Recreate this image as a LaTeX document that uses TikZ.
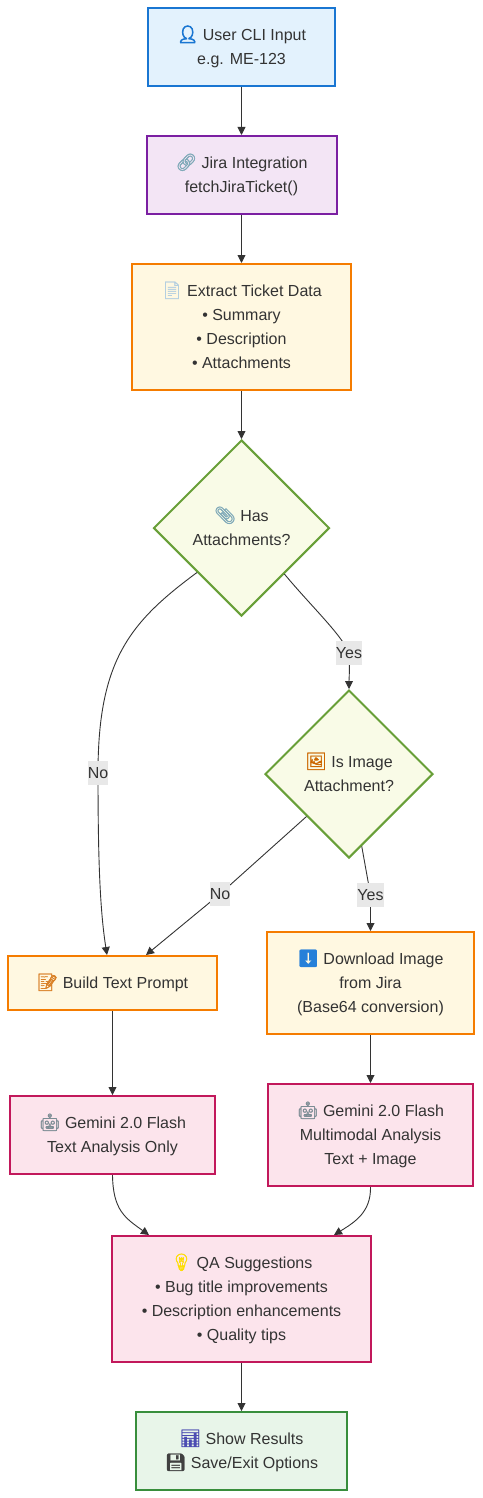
\documentclass[tikz,border=0pt]{standalone}
\usepackage{fontspec}
\setmainfont{Liberation Sans}
\font\emojifont="Noto Emoji:embolden=1.4" at 17pt
\font\emojiheavy="Noto Emoji:embolden=5" at 17pt
\usetikzlibrary{arrows.meta,shapes.geometric}

\definecolor{inkgray}{HTML}{333333}
\definecolor{labelgray}{HTML}{E8E8E8}
\definecolor{blueline}{HTML}{1976D2}
\definecolor{bluefill}{HTML}{E3F2FD}
\definecolor{purpleline}{HTML}{7B1FA2}
\definecolor{purplefill}{HTML}{F3E5F5}
\definecolor{orangeline}{HTML}{F57C00}
\definecolor{orangefill}{HTML}{FFF8E1}
\definecolor{oliveline}{HTML}{689F38}
\definecolor{olivefill}{HTML}{F9FBE7}
\definecolor{pinkline}{HTML}{C2185B}
\definecolor{pinkfill}{HTML}{FCE4EC}
\definecolor{greenline}{HTML}{388E3C}
\definecolor{greenfill}{HTML}{E8F5E9}
\definecolor{steelicon}{HTML}{7FA9B8}
\definecolor{papericon}{HTML}{B4CFE0}
\definecolor{roboticon}{HTML}{7C8C94}

\newcommand{\emo}[2]{{\emojifont\color{#1}#2}}
\newcommand{\emoh}[2]{{\emojiheavy\color{#1}#2}}

\tikzset{
    flowbox/.style={draw,line width=2pt,rectangle,align=center,inner sep=0pt,text=inkgray,
        text depth=4.2pt,font=\fontsize{16}{24}\selectfont},
    inputbox/.style={flowbox,draw=blueline,fill=bluefill},
    jirabox/.style={flowbox,draw=purpleline,fill=purplefill},
    workbox/.style={flowbox,draw=orangeline,fill=orangefill},
    aibox/.style={flowbox,draw=pinkline,fill=pinkfill},
    outbox/.style={flowbox,draw=greenline,fill=greenfill},
    question/.style={flowbox,shape=diamond,aspect=1,draw=oliveline,fill=olivefill},
    link/.style={draw=inkgray,line width=0.9pt,-{Triangle[length=8pt,width=8pt]}},
    edgetext/.style={fill=labelgray,text=inkgray,inner sep=0pt,minimum height=24pt,
        font=\fontsize{16}{24}\selectfont}
}

\begin{document}
\begin{tikzpicture}[x=1pt,y=-1pt]
    \useasboundingbox (0,0) rectangle (482,1498);

    \node[inputbox,minimum width=187pt,minimum height=78pt] (userinput) at (241.5,47)
        {\emoh{blueline}{👤} User CLI Input\\e.g. ME-123};
    \node[jirabox,minimum width=190pt,minimum height=78pt] (jira) at (241.5,175)
        {\emo{steelicon}{🔗} Jira Integration\\fetchJiraTicket()};
    \node[workbox,minimum width=219pt,minimum height=126pt] (extract) at (241.5,327)
        {\emo{papericon}{📄} Extract Ticket Data\\• Summary\\• Description\\• Attachments};
    \node[question,minimum width=176pt,minimum height=176pt] (hasfiles) at (241.5,528)
        {\emo{steelicon}{📎} Has\\Attachments?};
    \node[question,minimum width=168pt,minimum height=168pt] (isimage) at (349,774)
        {\emo{orange!80!black}{🖼} Is Image\\Attachment?};
    \node[workbox,minimum width=209pt,minimum height=54pt] (textprompt) at (112.5,983)
        {\emo{orange!70!gray}{📝} Build Text Prompt};
    \node[workbox,minimum width=207pt,minimum height=102pt] (download) at (370.5,983)
        {\emo{blue!50!cyan!70!gray}{⬇} Download Image\\from Jira\\(Base64 conversion)};
    \node[aibox,minimum width=205pt,minimum height=78pt] (geminitext) at (112.5,1135)
        {\emo{roboticon}{🤖} Gemini 2.0 Flash\\Text Analysis Only};
    \node[aibox,minimum width=205pt,minimum height=102pt] (geminiimage) at (370.5,1135)
        {\emo{roboticon}{🤖} Gemini 2.0 Flash\\Multimodal Analysis\\Text + Image};
    \node[aibox,minimum width=259pt,minimum height=126pt] (suggest) at (241.5,1299)
        {\emo{yellow!80!orange}{💡} QA Suggestions\\• Bug title improvements\\• Description enhancements\\• Quality tips};
    \node[outbox,minimum width=211pt,minimum height=78pt] (results) at (241.5,1451)
        {\emo{blue!40!gray}{📊} Show Results\\\emo{darkgray}{💾} Save/Exit Options};

    \draw[link] (userinput) -- (jira);
    \draw[link] (jira) -- (extract);
    \draw[link] (extract) -- (hasfiles);
    \draw[link] (hasfiles.south west) .. controls (130,622) and (98,660) .. (98,773)
        node[edgetext,minimum width=20pt]{No}
        .. controls (98,860) and (100,910) .. (textprompt.north -| 107,0);
    \draw[link] (hasfiles.-47) .. controls (310,605) and (342,635) .. (349,653)
        node[edgetext,minimum width=26pt]{Yes}
        .. controls (350,665) and (349,680) .. (isimage);
    \draw[link] (isimage.south west) -- (220,894) node[edgetext,minimum width=20pt]{No}
        -- (textprompt.north -| 146,0);
    \draw[link] (isimage.-80) -- (370.5,895) node[edgetext,minimum width=26pt]{Yes}
        -- (download);
    \draw[link] (textprompt) -- (geminitext);
    \draw[link] (download) -- (geminiimage);
    \draw[link] (geminitext.south) .. controls (113,1210) and (125,1218) .. (suggest.north -| 149,0);
    \draw[link] (geminiimage.south) .. controls (371,1212) and (355,1222) .. (suggest.north -| 334,0);
    \draw[link] (suggest) -- (results);
\end{tikzpicture}
\end{document}
